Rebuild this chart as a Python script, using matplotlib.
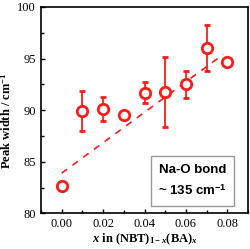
import matplotlib.pyplot as plt
from matplotlib.ticker import MultipleLocator

# composition x and Na-O peak width
x = [0.00, 0.01, 0.02, 0.03, 0.04, 0.05, 0.06, 0.07, 0.08]
width = [82.7, 89.9, 90.1, 89.5, 91.7, 91.8, 92.5, 96.0, 94.7]
err = [0.0, 1.95, 1.15, 0.0, 1.0, 3.4, 1.3, 2.25, 0.0]

# guide line
line_x = [0.0, 0.078]
line_y = [83.9, 95.4]

red = '#ff1a1a'

plt.rcParams['font.family'] = 'Liberation Serif'
plt.rcParams['mathtext.fontset'] = 'custom'
plt.rcParams['mathtext.rm'] = 'Liberation Serif:bold'
plt.rcParams['mathtext.bf'] = 'Liberation Serif:bold'
plt.rcParams['mathtext.it'] = 'Liberation Serif:italic:bold'
plt.rcParams['mathtext.sf'] = 'Liberation Sans:bold'

fig = plt.figure(figsize=(2.5, 2.49), dpi=100)
ax = fig.add_axes([0.164, 0.143, 0.828, 0.829])

ax.plot(line_x, line_y, linestyle=(0, (4, 4)), color=red, lw=1.2)
ax.errorbar(x, width, yerr=err, fmt='o', color=red, ms=7.5, mfc='white',
            mec=red, mew=2, elinewidth=1.3, capsize=2.5, capthick=1.3)

ax.set_xlim(-0.01, 0.09)
ax.set_ylim(80, 100)
ax.xaxis.set_major_locator(MultipleLocator(0.02))
ax.xaxis.set_minor_locator(MultipleLocator(0.01))
ax.yaxis.set_major_locator(MultipleLocator(5))
ax.yaxis.set_minor_locator(MultipleLocator(2.5))
ax.xaxis.set_major_formatter(plt.FormatStrFormatter('%.2f'))
ax.tick_params(which='both', direction='in', labelsize=9, width=1)
ax.tick_params(which='major', length=3)
ax.tick_params(which='minor', length=2)
for s in ax.spines.values():
    s.set_linewidth(1.2)

ax.set_xlabel(r'$x$ in (NBT)$_{1-x}$(BA)$_x$', fontsize=9, fontweight='bold', labelpad=1)
ax.set_ylabel(r'Peak width / cm$^{-1}$', fontsize=9, fontweight='bold', labelpad=2)
ax.yaxis.set_label_coords(-0.13, 0.45)

ax.text(0.732, 0.157, 'Na-O bond\n~ 135 cm$^{\\mathsf{-1}}$', transform=ax.transAxes,
        ha='center', va='center', fontsize=9.5, fontweight='bold',
        family='Liberation Sans', linespacing=1.7,
        bbox=dict(boxstyle='square,pad=0.55', fc='white', ec='#999999', lw=1))

fig.savefig('out.png', dpi=100)
